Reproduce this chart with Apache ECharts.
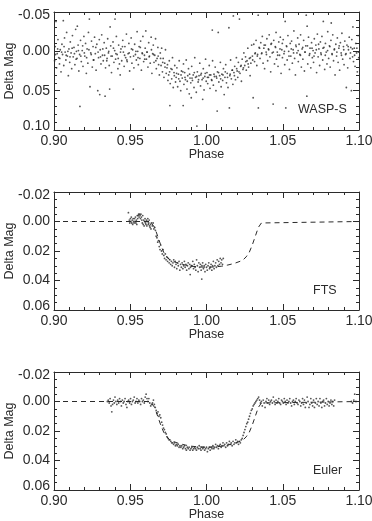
<!DOCTYPE html>
<html>
<head>
<meta charset="utf-8">
<script src="https://cdn.jsdelivr.net/npm/echarts@6/dist/echarts.min.js"></script>
<style>
  html, body {margin: 0; padding: 0; background: #fff;}
  #chart {width: 372px; height: 521px;}
</style>
</head>
<body>
<div id="chart"></div>
<script>
// phase axis, shared by all panels
let phaseRange = [0.90, 1.10];
let phaseStep = 0.05;

// panel names and y ranges (Delta Mag, inverted)
let panelNames = ['WASP-S', 'FTS', 'Euler'];
let magRanges = [[-0.05, 0.10], [-0.02, 0.06], [-0.02, 0.06]];
let magSteps = [0.05, 0.02, 0.02];
let magMinor = [5, 4, 4];

// WASP-S photometry [phase, dmag]
let waspData = [
  [0.9004,0.012],[0.9008,-0.006],[0.9013,-0.038],[0.9017,0.021],[0.9021,0.003],[0.9026,-0.015],[0.9031,0.008],[0.9036,0.016],[0.9041,-0.002],[0.9046,0.026],
  [0.9052,-0.009],[0.9056,0.004],[0.9061,-0.039],[0.9064,0.018],[0.9069,-0.017],[0.9073,0.001],[0.9078,0.011],[0.9083,-0.024],[0.9088,0.006],[0.9094,0.031],[0.9098,-0.003],
  [0.9103,0.014],[0.9107,-0.012],[0.9112,0.002],[0.9116,0.022],[0.9121,-0.020],[0.9126,0.007],[0.9131,-0.005],[0.9137,0.017],[0.9142,-0.028],[0.9147,0.000],
  [0.9151,0.009],[0.9153,-0.032],[0.9158,-0.008],[0.9163,0.025],[0.9168,0.004],[0.9170,0.070],[0.9174,-0.014],[0.9179,0.013],[0.9185,-0.001],[0.9190,0.019],[0.9196,-0.019],
  [0.9202,0.006],[0.9207,-0.010],[0.9212,0.028],[0.9217,-0.003],[0.9222,0.015],[0.9226,-0.024],[0.9232,-0.041],[0.9236,0.045],[0.9241,0.002],[0.9246,-0.013],
  [0.9251,0.020],[0.9256,-0.006],[0.9261,0.011],[0.9266,-0.018],[0.9271,0.003],[0.9276,0.024],[0.9281,-0.009],[0.9287,0.050],[0.9292,0.008],[0.9297,-0.015],[0.9300,0.055],
  [0.9303,-0.002],[0.9308,0.016],[0.9313,-0.021],[0.9318,0.005],[0.9323,0.012],[0.9329,-0.011],[0.9335,0.057],[0.9338,0.021],[0.9343,-0.004],[0.9348,0.009],
  [0.9352,-0.016],[0.9357,0.002],[0.9362,0.018],[0.9365,0.048],[0.9368,-0.031],[0.9372,-0.007],[0.9377,0.027],[0.9382,0.006],[0.9387,-0.012],[0.9393,0.014],[0.9398,-0.001],
  [0.9400,-0.041],[0.9404,0.010],[0.9409,-0.019],[0.9414,0.004],[0.9419,0.022],[0.9424,-0.008],[0.9429,0.016],[0.9434,0.030],[0.9439,-0.003],[0.9444,0.012],
  [0.9451,-0.014],[0.9455,0.001],[0.9460,0.019],[0.9465,-0.006],[0.9470,0.008],[0.9475,-0.022],[0.9480,0.013],[0.9486,0.003],[0.9491,-0.010],[0.9496,0.025],
  [0.9501,0.007],[0.9506,-0.017],[0.9511,0.015],[0.9516,-0.002],[0.9520,0.048],[0.9524,0.021],[0.9529,-0.009],[0.9534,0.004],[0.9540,0.011],[0.9545,-0.025],[0.9549,0.000],
  [0.9553,0.017],[0.9558,-0.006],[0.9563,0.009],[0.9568,-0.013],[0.9573,0.024],[0.9578,0.002],[0.9583,-0.019],[0.9588,0.013],[0.9593,0.005],[0.9598,-0.004],
  [0.9602,-0.026],[0.9606,0.010],[0.9611,0.001],[0.9616,0.020],[0.9621,-0.011],[0.9626,0.006],[0.9631,0.015],[0.9637,-0.018],[0.9642,0.028],[0.9647,0.003],
  [0.9651,-0.008],[0.9656,0.014],[0.9661,0.005],[0.9666,-0.016],[0.9671,0.022],[0.9676,0.009],[0.9681,-0.005],[0.9686,0.017],[0.9691,0.030],[0.9697,0.002],
  [0.9702,0.018],[0.9706,-0.004],[0.9711,0.026],[0.9716,0.009],[0.9721,0.033],[0.9726,0.015],[0.9731,-0.002],[0.9736,0.028],[0.9741,0.021],[0.9747,0.037],
  [0.9752,0.030],[0.9756,0.012],[0.9760,0.069],[0.9762,0.041],[0.9767,0.022],[0.9772,0.035],[0.9777,0.008],[0.9782,0.046],[0.9787,0.027],[0.9792,0.018],[0.9797,0.039],
  [0.9801,0.033],[0.9806,0.021],[0.9811,0.045],[0.9816,0.029],[0.9821,0.012],[0.9826,0.038],[0.9831,0.050],[0.9836,0.025],[0.9841,0.034],[0.9847,0.069],[0.9849,0.016],
  [0.9852,0.042],[0.9857,0.027],[0.9862,0.036],[0.9867,0.011],[0.9872,0.048],[0.9877,0.031],[0.9882,0.022],[0.9887,0.054],[0.9892,0.034],[0.9897,0.040],[0.9900,0.059],
  [0.9903,0.019],[0.9908,0.037],[0.9913,0.030],[0.9918,0.046],[0.9923,0.008],[0.9928,0.033],[0.9933,0.052],[0.9937,0.095],[0.9940,0.026],[0.9945,0.039],
  [0.9951,0.031],[0.9956,0.015],[0.9961,0.044],[0.9966,0.028],[0.9971,0.036],[0.9975,0.061],[0.9979,0.022],[0.9984,0.049],[0.9989,0.032],[0.9994,0.010],[0.9998,0.038],
  [1.0003,0.027],[1.0008,0.041],[1.0013,0.033],[1.0018,0.018],[1.0023,0.047],[1.0028,0.030],[1.0033,0.036],[1.0038,-0.027],[1.0040,0.012],[1.0045,0.043],
  [1.0052,0.032],[1.0057,0.020],[1.0062,0.050],[1.0067,0.034],[1.0070,0.076],[1.0072,0.026],[1.0077,-0.024],[1.0081,0.039],[1.0086,0.031],[1.0091,0.014],[1.0096,0.045],
  [1.0101,0.029],[1.0106,0.037],[1.0111,0.022],[1.0116,0.055],[1.0121,0.033],[1.0126,0.017],[1.0131,0.040],[1.0136,0.028],[1.0141,0.046],[1.0147,-0.030],[1.0150,0.072],
  [1.0153,0.031],[1.0158,0.011],[1.0163,0.035],[1.0168,0.024],[1.0173,0.042],[1.0176,-0.045],[1.0180,0.027],[1.0185,0.019],[1.0190,0.036],[1.0196,0.008],
  [1.0201,0.025],[1.0205,0.033],[1.0209,0.014],[1.0216,-0.041],[1.0220,0.028],[1.0224,0.019],[1.0229,0.038],[1.0234,0.010],[1.0239,0.023],[1.0245,0.002],
  [1.0251,0.018],[1.0256,0.007],[1.0261,0.024],[1.0266,0.012],[1.0271,-0.004],[1.0276,0.020],[1.0281,0.009],[1.0286,0.031],[1.0291,0.015],[1.0296,-0.008],
  [1.0301,0.006],[1.0306,0.059],[1.0310,-0.009],[1.0315,0.013],[1.0320,0.002],[1.0325,-0.014],[1.0330,0.018],[1.0335,0.004],[1.0339,-0.046],[1.0340,0.072],[1.0345,-0.005],
  [1.0351,0.009],[1.0356,-0.011],[1.0361,0.003],[1.0366,-0.019],[1.0371,0.015],[1.0376,-0.004],[1.0381,0.022],[1.0386,-0.008],[1.0391,0.001],[1.0396,-0.016],
  [1.0401,0.012],[1.0406,-0.003],[1.0411,-0.021],[1.0416,0.007],[1.0421,0.026],[1.0426,-0.010],[1.0431,0.002],[1.0437,0.067],[1.0441,-0.014],[1.0446,0.016],
  [1.0451,-0.006],[1.0456,-0.024],[1.0459,0.010],[1.0464,0.001],[1.0469,0.019],[1.0474,-0.012],[1.0479,0.005],[1.0484,-0.018],[1.0489,0.028],[1.0494,-0.002],[1.0498,0.008],
  [1.0503,-0.015],[1.0508,0.003],[1.0513,0.017],[1.0516,-0.038],[1.0520,0.072],[1.0524,-0.007],[1.0529,0.011],[1.0534,-0.020],[1.0539,0.000],[1.0544,0.023],[1.0549,-0.010],
  [1.0553,0.006],[1.0558,-0.013],[1.0563,0.015],[1.0568,-0.002],[1.0573,-0.026],[1.0578,0.009],[1.0583,0.030],[1.0588,-0.006],[1.0593,0.002],[1.0598,-0.017],
  [1.0602,0.013],[1.0607,-0.009],[1.0612,0.004],[1.0617,-0.021],[1.0622,0.020],[1.0627,-0.003],[1.0632,0.010],[1.0637,-0.014],[1.0642,0.025],[1.0647,0.001],
  [1.0651,-0.007],[1.0654,-0.046],[1.0658,0.057],[1.0660,-0.032],[1.0664,0.016],[1.0669,-0.018],[1.0674,0.005],[1.0679,-0.004],[1.0684,0.021],[1.0689,-0.011],[1.0694,0.008],[1.0699,-0.001],
  [1.0702,0.014],[1.0707,-0.016],[1.0712,0.002],[1.0717,-0.008],[1.0722,0.027],[1.0727,-0.022],[1.0732,0.007],[1.0737,-0.003],[1.0742,0.018],[1.0747,-0.012],
  [1.0752,0.004],[1.0757,-0.019],[1.0762,0.011],[1.0766,-0.038],[1.0770,-0.005],[1.0775,0.023],[1.0780,-0.010],[1.0785,0.001],[1.0790,0.016],[1.0795,-0.025],
  [1.0801,0.009],[1.0806,-0.007],[1.0811,0.020],[1.0816,-0.014],[1.0818,-0.036],[1.0823,0.003],[1.0828,-0.021],[1.0833,0.012],[1.0838,-0.002],[1.0843,0.030],[1.0848,-0.009],
  [1.0853,0.006],[1.0858,-0.017],[1.0863,0.014],[1.0868,-0.004],[1.0873,0.024],[1.0878,-0.011],[1.0883,0.002],[1.0888,-0.023],[1.0893,0.010],[1.0898,-0.006],
  [1.0902,0.017],[1.0907,-0.013],[1.0912,0.004],[1.0917,0.046],[1.0921,-0.008],[1.0926,0.021],[1.0931,-0.002],[1.0936,-0.018],[1.0941,0.009],[1.0946,-0.005],
  [1.0950,0.050],[1.0953,-0.015],[1.0958,0.007],[1.0960,-0.031],[1.0964,0.013],[1.0969,-0.004],[1.0974,0.019],[1.0979,-0.010],[1.0984,0.002],[1.0989,0.026],[1.0994,-0.020],[1.0998,0.008],
  // denser core of the band
  [0.9010,0.004],[0.9024,-0.003],[0.9038,0.009],[0.9050,0.001],[0.9066,-0.006],[0.9080,0.005],[0.9091,0.000],[0.9105,0.007],[0.9119,-0.004],[0.9134,0.003],
  [0.9145,0.010],[0.9160,-0.001],[0.9176,0.006],[0.9188,-0.007],[0.9199,0.002],[0.9214,0.008],[0.9229,-0.002],[0.9244,0.004],[0.9258,0.011],[0.9274,-0.005],
  [0.9289,0.001],[0.9305,0.007],[0.9320,-0.003],[0.9332,0.005],[0.9346,0.012],[0.9359,0.000],[0.9374,0.006],[0.9390,-0.004],[0.9406,0.003],[0.9421,0.009],
  [0.9436,0.001],[0.9449,-0.006],[0.9463,0.005],[0.9478,0.011],[0.9493,0.002],[0.9508,-0.003],[0.9522,0.006],[0.9537,0.000],[0.9551,0.008],[0.9566,-0.005],
  [0.9580,0.003],[0.9595,0.010],[0.9609,0.001],[0.9624,0.007],[0.9639,-0.002],[0.9653,0.004],[0.9668,0.012],[0.9683,0.006],[0.9699,0.009],
  [0.9713,0.014],[0.9728,0.020],[0.9744,0.017],[0.9758,0.026],[0.9774,0.023],[0.9789,0.031],
  [0.9804,0.028],[0.9818,0.035],[0.9833,0.030],[0.9845,0.026],[0.9859,0.033],[0.9874,0.038],[0.9889,0.029],[0.9905,0.034],[0.9920,0.027],[0.9935,0.032],
  [0.9948,0.036],[0.9963,0.030],[0.9978,0.034],[0.9992,0.028],[1.0006,0.033],[1.0020,0.030],[1.0035,0.037],[1.0049,0.029],[1.0064,0.032],[1.0079,0.027],
  [1.0093,0.035],[1.0108,0.030],[1.0123,0.026],[1.0138,0.033],[1.0155,0.029],[1.0170,0.024],[1.0183,0.031],[1.0198,0.022],
  [1.0213,0.026],[1.0227,0.018],[1.0242,0.021],[1.0258,0.013],[1.0273,0.016],[1.0288,0.008],[1.0303,0.011],[1.0318,0.003],[1.0333,0.006],
  [1.0348,-0.004],[1.0363,0.002],[1.0378,-0.008],[1.0393,0.004],[1.0408,-0.002],[1.0423,-0.009],[1.0438,0.001],[1.0453,-0.005],[1.0467,0.005],[1.0482,-0.003],
  [1.0497,-0.010],[1.0511,0.000],[1.0526,-0.006],[1.0541,0.006],[1.0556,-0.003],[1.0571,0.002],[1.0586,-0.008],[1.0601,-0.001],[1.0616,0.005],[1.0631,-0.005],
  [1.0645,0.001],[1.0662,-0.007],[1.0677,0.003],[1.0692,-0.004],[1.0705,0.006],[1.0720,-0.002],[1.0735,-0.009],[1.0750,0.002],[1.0764,-0.004],[1.0779,0.005],
  [1.0794,-0.001],[1.0809,-0.006],[1.0824,0.004],[1.0839,-0.003],[1.0855,0.001],[1.0870,-0.007],[1.0885,0.005],[1.0900,-0.002],[1.0915,0.003],[1.0929,-0.006],
  [1.0944,0.002],[1.0957,-0.003],[1.0971,0.005],[1.0986,-0.004],[1.0996,0.001]
];

// FTS photometry
let ftsData = [
  [0.9488,-0.006],[0.9494,-0.001],[0.9497,0.001],[0.9501,-0.002],[0.9504,0.000],[0.9507,-0.003],[0.9510,0.001],[0.9513,-0.001],[0.9516,0.002],[0.9519,-0.002],
  [0.9522,0.000],[0.9525,0.001],[0.9528,-0.002],[0.9531,0.000],[0.9534,-0.003],[0.9537,0.001],[0.9540,-0.001],[0.9543,0.002],[0.9546,-0.004],[0.9549,-0.002],
  [0.9552,-0.004],[0.9555,-0.005],[0.9558,-0.003],[0.9561,-0.005],[0.9564,-0.004],[0.9567,-0.002],[0.9570,-0.005],[0.9573,-0.003],[0.9576,-0.001],[0.9579,0.001],
  [0.9582,-0.004],[0.9585,0.002],[0.9588,-0.001],[0.9591,0.003],[0.9594,0.000],[0.9597,-0.002],[0.9600,0.001],[0.9603,0.002],[0.9606,-0.001],[0.9609,0.003],
  [0.9612,0.000],[0.9615,-0.002],[0.9618,0.002],[0.9621,0.001],[0.9624,-0.001],[0.9627,0.003],[0.9630,0.004],[0.9633,0.002],[0.9636,0.005],[0.9639,0.001],
  [0.9645,0.003],[0.9650,0.001],[0.9655,0.005],[0.9660,0.004],[0.9665,0.006],[0.9670,0.010],[0.9675,0.011],[0.9680,0.014],[0.9685,0.013],[0.9690,0.017],
  [0.9695,0.019],[0.9700,0.016],[0.9705,0.020],[0.9710,0.022],[0.9715,0.019],[0.9720,0.023],[0.9725,0.025],[0.9730,0.022],[0.9735,0.026],[0.9740,0.024],
  [0.9745,0.027],[0.9750,0.025],[0.9755,0.028],[0.9760,0.026],[0.9765,0.029],[0.9770,0.027],[0.9775,0.030],
  [0.9780,0.028],[0.9785,0.026],[0.9790,0.031],[0.9795,0.027],[0.9800,0.029],[0.9805,0.032],[0.9810,0.028],[0.9815,0.030],[0.9820,0.027],[0.9825,0.033],
  [0.9830,0.029],[0.9835,0.031],[0.9840,0.028],[0.9845,0.032],[0.9850,0.030],[0.9855,0.027],[0.9860,0.031],[0.9865,0.029],[0.9870,0.033],[0.9875,0.030],
  [0.9880,0.028],[0.9885,0.032],[0.9890,0.029],[0.9893,0.036],[0.9895,0.031],[0.9900,0.030],[0.9905,0.030],[0.9910,0.027],[0.9915,0.032],[0.9920,0.029],
  [0.9925,0.031],[0.9930,0.033],[0.9935,0.026],[0.9940,0.030],[0.9945,0.034],[0.9950,0.028],[0.9955,0.031],[0.9960,0.029],[0.9965,0.033],[0.9969,0.039],
  [0.9970,0.030],[0.9975,0.028],[0.9980,0.032],[0.9985,0.030],[0.9990,0.034],[0.9995,0.029],[1.0000,0.031],[1.0005,0.033],[1.0010,0.030],[1.0015,0.028],
  [1.0020,0.032],[1.0025,0.031],[1.0030,0.029],[1.0035,0.033],[1.0040,0.030],[1.0045,0.027],[1.0050,0.032],[1.0055,0.030],[1.0060,0.028],[1.0065,0.031],
  [1.0070,0.026],[1.0075,0.030],[1.0080,0.027],[1.0085,0.029],[1.0090,0.025],[1.0095,0.028],[1.0100,0.026],[1.0105,0.029],[1.0110,0.025]
];

// Euler photometry
let eulerData = [
  [0.9350,0.000],[0.9356,-0.001],[0.9362,0.001],[0.9368,-0.002],[0.9374,0.003],[0.9379,0.007],[0.9384,0.002],[0.9390,-0.001],[0.9395,0.001],[0.9400,-0.003],
  [0.9406,0.000],[0.9412,0.002],[0.9418,-0.001],[0.9424,0.001],[0.9430,-0.002],[0.9436,0.000],[0.9442,0.003],[0.9448,-0.001],[0.9454,0.001],[0.9460,0.000],
  [0.9466,-0.002],[0.9472,0.002],[0.9478,0.004],[0.9484,0.000],[0.9490,-0.001],[0.9496,0.001],[0.9502,-0.002],[0.9508,0.002],[0.9514,0.000],[0.9520,-0.001],
  [0.9526,-0.003],[0.9532,0.001],[0.9538,0.000],[0.9544,-0.002],[0.9550,0.001],[0.9556,-0.001],[0.9562,0.000],[0.9568,0.002],[0.9574,-0.002],[0.9580,0.000],
  [0.9586,-0.001],[0.9592,0.001],[0.9598,-0.003],[0.9604,-0.005],[0.9610,-0.002],[0.9616,0.000],[0.9622,-0.002],[0.9628,0.001],[0.9634,0.003],[0.9640,0.002],
  [0.9646,0.001],[0.9652,-0.001],[0.9658,0.002],[0.9664,0.004],[0.9670,0.006],[0.9676,0.008],[0.9682,0.007],[0.9688,0.010],[0.9694,0.009],[0.9700,0.011],
  [0.9706,0.014],[0.9712,0.016],[0.9718,0.018],[0.9724,0.019],[0.9730,0.021],[0.9736,0.022],[0.9742,0.024],[0.9748,0.025],[0.9754,0.026],[0.9760,0.026],
  [0.9766,0.027],[0.9772,0.028],[0.9778,0.028],
  [0.9784,0.029],[0.9790,0.028],[0.9796,0.030],[0.9802,0.029],[0.9808,0.030],[0.9814,0.029],[0.9820,0.031],[0.9826,0.030],[0.9832,0.031],[0.9838,0.030],
  [0.9844,0.032],[0.9850,0.031],[0.9856,0.030],[0.9862,0.032],[0.9868,0.033],[0.9874,0.031],[0.9880,0.032],[0.9886,0.031],[0.9892,0.033],[0.9898,0.032],
  [0.9904,0.031],[0.9910,0.033],[0.9916,0.032],[0.9922,0.031],[0.9928,0.032],[0.9934,0.033],[0.9940,0.031],[0.9946,0.032],[0.9952,0.030],[0.9958,0.032],
  [0.9964,0.033],[0.9970,0.031],[0.9976,0.032],[0.9982,0.031],[0.9988,0.033],[0.9994,0.032],[1.0000,0.031],[1.0006,0.034],[1.0012,0.032],[1.0018,0.031],
  [1.0024,0.033],[1.0030,0.031],[1.0036,0.032],[1.0042,0.030],[1.0048,0.032],[1.0054,0.031],[1.0060,0.029],[1.0066,0.031],[1.0072,0.030],[1.0078,0.032],
  [1.0084,0.030],[1.0090,0.029],[1.0096,0.031],[1.0102,0.030],[1.0108,0.028],[1.0114,0.030],[1.0120,0.029],[1.0126,0.031],[1.0132,0.028],[1.0138,0.030],
  [1.0144,0.029],[1.0150,0.027],[1.0156,0.029],[1.0162,0.028],[1.0168,0.030],[1.0174,0.027],[1.0180,0.029],[1.0186,0.028],[1.0192,0.026],[1.0198,0.028],
  [1.0204,0.027],[1.0210,0.029],[1.0216,0.027],[1.0222,0.028],[1.0228,0.026],
  [1.0234,0.025],[1.0240,0.023],[1.0246,0.021],[1.0252,0.019],[1.0258,0.017],[1.0264,0.015],[1.0270,0.014],[1.0276,0.012],[1.0282,0.010],[1.0288,0.008],
  [1.0294,0.006],[1.0300,0.005],[1.0306,0.003],[1.0312,0.002],[1.0318,0.001],[1.0324,0.000],[1.0330,-0.001],[1.0336,-0.002],[1.0342,-0.003],
  [1.0348,-0.001],[1.0354,0.001],[1.0360,0.000],[1.0366,0.003],[1.0372,-0.001],[1.0378,0.001],[1.0384,0.004],[1.0390,0.000],[1.0396,-0.002],[1.0402,0.001],
  [1.0408,-0.001],[1.0414,0.002],[1.0420,0.000],[1.0426,-0.001],[1.0432,0.001],[1.0438,-0.003],[1.0444,0.000],[1.0450,0.002],[1.0456,-0.001],[1.0462,0.001],
  [1.0468,0.000],[1.0474,-0.002],[1.0480,0.001],[1.0486,0.002],[1.0492,-0.001],[1.0498,0.000],[1.0504,0.001],[1.0510,-0.002],[1.0516,0.000],[1.0522,0.002],
  [1.0528,-0.001],[1.0534,0.001],[1.0540,0.000],[1.0546,-0.002],[1.0552,0.001],[1.0558,0.003],[1.0564,0.000],[1.0570,-0.001],[1.0576,0.002],[1.0582,0.000],
  [1.0588,-0.002],[1.0594,0.001],[1.0600,0.002],[1.0606,-0.001],[1.0612,0.000],[1.0618,0.003],[1.0624,0.001],[1.0630,-0.002],[1.0636,0.002],[1.0642,-0.001],
  [1.0648,0.004],[1.0654,0.001],[1.0660,-0.003],[1.0666,0.000],[1.0672,0.004],[1.0678,0.002],[1.0684,-0.002],[1.0690,0.001],[1.0696,0.003],[1.0702,-0.001],
  [1.0708,0.004],[1.0714,0.001],[1.0720,-0.002],[1.0726,0.002],[1.0732,0.000],[1.0738,0.003],[1.0744,-0.002],[1.0750,0.001],[1.0756,0.004],[1.0762,0.000],
  [1.0768,-0.001],[1.0774,0.003],[1.0780,0.001],[1.0786,-0.002],[1.0792,0.002],[1.0798,0.000],[1.0804,0.003],[1.0810,0.001],[1.0816,-0.001],[1.0822,0.002],
  [1.0828,0.000],[1.0834,0.003],[1.0840,-0.001],
  [1.0950,0.000],[1.0958,0.001],[1.0966,-0.001],[1.0972,-0.005],[1.0980,0.000]
];

// transit model (dashed) used in FTS and Euler panels
let modelCurve = [
  [0.900,0],[0.963,0],[0.964,0.001],[0.966,0.004],[0.968,0.010],[0.970,0.016],[0.972,0.021],[0.974,0.024],
  [0.976,0.026],[0.978,0.027],[0.982,0.0285],[0.986,0.0295],[0.990,0.0303],[0.995,0.0308],[1.000,0.031],
  [1.005,0.0308],[1.010,0.0303],[1.014,0.0295],[1.018,0.0285],[1.022,0.027],[1.024,0.026],[1.026,0.024],
  [1.028,0.021],[1.030,0.016],[1.032,0.010],[1.034,0.004],[1.036,0.001],[1.037,0],[1.100,0]
];

let ink = '#2b2b2b';
let font = 'Liberation Sans, Arial, Helvetica, sans-serif';
let gridTops = [12, 192, 372];

let fmt = function (v) {
  return v.toFixed(2);
};

// y labels: the two end labels sit a little inside the box, like the IDL plot
let yFmt = function (i) {
  return function (v) {
    let s = v.toFixed(2);
    if (Math.abs(v - magRanges[i][0]) < 1e-9) {
      return '{lo|' + s + '}';
    }
    if (Math.abs(v - magRanges[i][1]) < 1e-9) {
      return '{hi|' + s + '}';
    }
    return s;
  };
};

// one box: bottom/left carry labels, top/right only mirror the ticks
let makeX = function (i, labelled) {
  return {
    type: 'value', gridIndex: i, position: labelled ? 'bottom' : 'top',
    min: phaseRange[0], max: phaseRange[1], interval: phaseStep,
    name: labelled ? 'Phase' : '', nameLocation: 'middle', nameGap: 18, nameMoveOverlap: false,
    nameTextStyle: {fontFamily: font, fontSize: 12.5, color: ink},
    axisLine: {show: true, onZero: false, lineStyle: {color: ink, width: 1}},
    axisTick: {show: true, inside: true, length: 6, lineStyle: {color: ink}},
    minorTick: {show: true, splitNumber: 5, length: 3, lineStyle: {color: ink}},
    splitLine: {show: false},
    axisLabel: {
      show: labelled, margin: 4, formatter: fmt, showMinLabel: true, showMaxLabel: true,
      fontFamily: font, fontSize: 14, color: ink
    }
  };
};

let makeY = function (i, labelled) {
  return {
    type: 'value', gridIndex: i, position: labelled ? 'left' : 'right', inverse: true,
    min: magRanges[i][0], max: magRanges[i][1], interval: magSteps[i],
    name: labelled ? 'Delta Mag' : '', nameLocation: 'middle', nameGap: 38, nameMoveOverlap: false,
    nameTextStyle: {fontFamily: font, fontSize: 12.5, color: ink},
    axisLine: {show: true, onZero: false, lineStyle: {color: ink, width: 1}},
    axisTick: {show: true, inside: true, length: 6, lineStyle: {color: ink}},
    minorTick: {show: true, splitNumber: magMinor[i], length: 3, lineStyle: {color: ink}},
    splitLine: {show: false},
    axisLabel: {
      show: labelled, margin: 4, formatter: yFmt(i), showMinLabel: true, showMaxLabel: true,
      fontFamily: font, fontSize: 14, color: ink,
      rich: {
        lo: {fontFamily: font, fontSize: 14, color: ink, padding: [6, 0, 0, 0]},
        hi: {fontFamily: font, fontSize: 14, color: ink, padding: [0, 0, 7, 0]}
      }
    }
  };
};

let grids = [];
let xAxes = [];
let yAxes = [];
gridTops.forEach(function (t, i) {
  grids.push({left: 54, width: 305, top: t, height: 118, containLabel: false, outerBoundsMode: 'none'});
  xAxes.push(makeX(i, true));
  xAxes.push(makeX(i, false));
  yAxes.push(makeY(i, true));
  yAxes.push(makeY(i, false));
});

let dots = function (i, data) {
  return {
    type: 'scatter', xAxisIndex: i * 2, yAxisIndex: i * 2, data: data,
    symbol: 'circle', symbolSize: 1.8, itemStyle: {color: ink}, silent: true, z: 3
  };
};

let model = function (i) {
  return {
    type: 'line', xAxisIndex: i * 2, yAxisIndex: i * 2, data: modelCurve,
    showSymbol: false, smooth: false, silent: true, z: 2,
    lineStyle: {color: ink, width: 1, type: [5, 4]}
  };
};

let labelPos = [[298, 103], [313, 284], [313, 464]];
let labels = panelNames.map(function (n, i) {
  return {
    type: 'text', left: labelPos[i][0], top: labelPos[i][1],
    style: {text: n, fontFamily: font, fontSize: 12.5, fill: ink}
  };
});

let chart = echarts.init(document.getElementById('chart'), null, {renderer: 'canvas'});
chart.setOption({
  animation: false,
  backgroundColor: '#fff',
  grid: grids,
  xAxis: xAxes,
  yAxis: yAxes,
  graphic: labels,
  series: [
    dots(0, waspData),
    model(1), dots(1, ftsData),
    model(2), dots(2, eulerData)
  ]
});
</script>
</body>
</html>
